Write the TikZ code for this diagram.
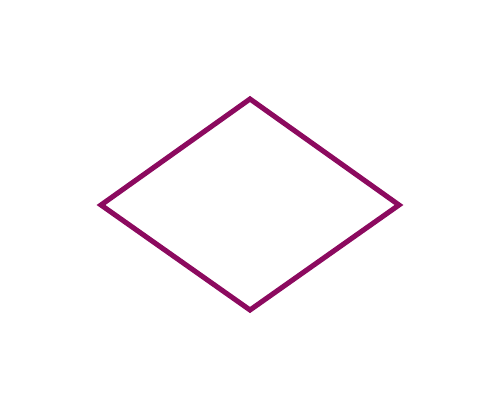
\documentclass[tikz,border=0pt]{standalone}
\definecolor{plum}{RGB}{140,10,95}
\begin{document}
\begin{tikzpicture}[x=0.02cm,y=0.02cm, outline/.style={draw=plum, line width=2.9pt, line join=miter}]
\useasboundingbox (0,0) rectangle (500,410);
\coordinate (t) at (250,311);
\coordinate (r) at (399,205);
\coordinate (b) at (250,100);
\coordinate (l) at (101,205);
\draw[outline] (t) -- (r) -- (b) -- (l) -- cycle;
\end{tikzpicture}
\end{document}
